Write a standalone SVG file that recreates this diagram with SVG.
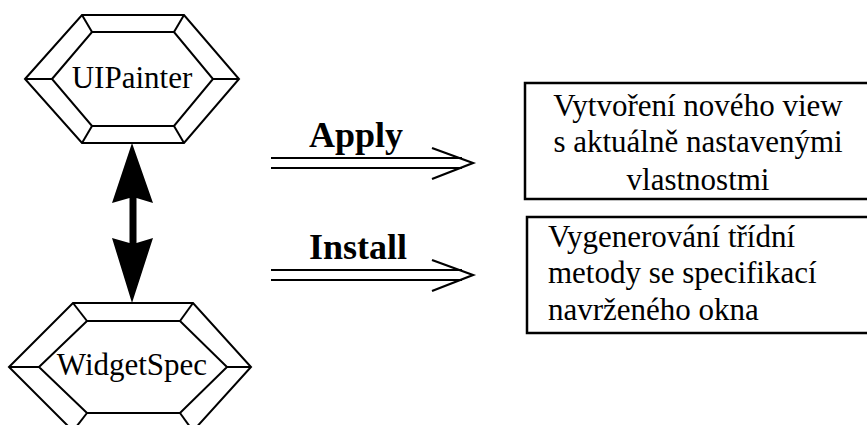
<svg xmlns="http://www.w3.org/2000/svg" width="867" height="425" viewBox="0 0 867 425">
  <style>
    .hex { fill: none; stroke: #000; stroke-width: 2; stroke-linejoin: miter; }
    .lbl { font-family: "Liberation Serif", "Times New Roman", serif; font-size: 31px; fill: #000; }
    .op { font-family: "Liberation Serif", "Times New Roman", serif; font-size: 36px; font-weight: bold; fill: #000; }
    .dbl { fill: none; stroke: #000; stroke-width: 2.2; }
    .box { fill: #fff; stroke: #000; stroke-width: 2.5; }
  </style>

  <!-- class node: UIPainter -->
  <g id="uipainter">
    <polygon class="hex" points="25,79 82,15 184,15 239,79 184,143 82,143"/>
    <polygon class="hex" points="52,79 92,32 174,32 213,79 174,126 92,126"/>
    <line class="hex" x1="25" y1="79" x2="52" y2="79"/>
    <line class="hex" x1="239" y1="79" x2="213" y2="79"/>
    <line class="hex" x1="82" y1="15" x2="92" y2="32"/>
    <line class="hex" x1="184" y1="15" x2="174" y2="32"/>
    <line class="hex" x1="82" y1="143" x2="92" y2="126"/>
    <line class="hex" x1="184" y1="143" x2="174" y2="126"/>
    <text class="lbl" x="132" y="88" text-anchor="middle">UIPainter</text>
  </g>

  <!-- class node: WidgetSpec -->
  <g id="widgetspec">
    <polygon class="hex" points="9,367 73,303 193,303 251,367 193,431 73,431"/>
    <polygon class="hex" points="39,367 87,321 180,321 227,367 180,413 87,413"/>
    <line class="hex" x1="9" y1="367" x2="39" y2="367"/>
    <line class="hex" x1="251" y1="367" x2="227" y2="367"/>
    <line class="hex" x1="73" y1="303" x2="87" y2="321"/>
    <line class="hex" x1="193" y1="303" x2="180" y2="321"/>
    <line class="hex" x1="73" y1="431" x2="87" y2="413"/>
    <line class="hex" x1="193" y1="431" x2="180" y2="413"/>
    <text class="lbl" x="132" y="375" text-anchor="middle">WidgetSpec</text>
  </g>

  <!-- result boxes -->
  <g id="apply-result">
    <rect class="box" x="525" y="83" width="350" height="116"/>
    <text class="lbl" x="698" y="116" text-anchor="middle">Vytvoření nového view</text>
    <text class="lbl" x="698" y="152" text-anchor="middle">s aktuálně nastavenými</text>
    <text class="lbl" x="698" y="190" text-anchor="middle">vlastnostmi</text>
  </g>

  <g id="install-result">
    <rect class="box" x="527" y="217" width="350" height="116"/>
    <text class="lbl" x="548" y="247">Vygenerování třídní</text>
    <text class="lbl" x="548" y="283">metody se specifikací</text>
    <text class="lbl" x="548" y="320">navrženého okna</text>
  </g>

  <!-- connectors -->
  <g id="connectors">
    <!-- bidirectional association -->
    <polygon fill="#000" points="132,143 153,203 136.5,198 136.5,243 153,238 132,303 112,238 129.5,243 129.5,198 112,203"/>

    <!-- Apply -->
    <text class="op" x="356" y="147" text-anchor="middle">Apply</text>
    <line class="dbl" x1="271" y1="158" x2="462" y2="158"/>
    <line class="dbl" x1="271" y1="168" x2="462" y2="168"/>
    <polyline class="dbl" points="432,148 473,163 432,179"/>

    <!-- Install -->
    <text class="op" x="358" y="259" text-anchor="middle">Install</text>
    <line class="dbl" x1="271" y1="270" x2="462" y2="270"/>
    <line class="dbl" x1="271" y1="280" x2="462" y2="280"/>
    <polyline class="dbl" points="432,260 473,275 432,291"/>
  </g>
</svg>
